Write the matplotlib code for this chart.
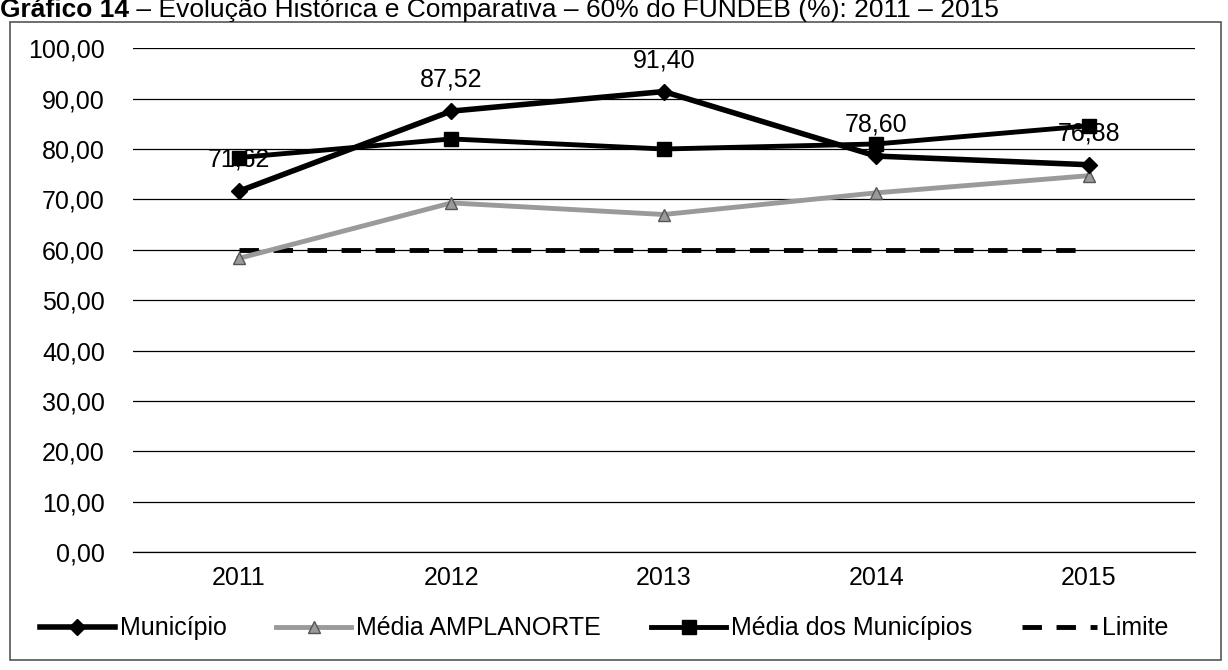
import matplotlib.pyplot as plt
from matplotlib.patches import Rectangle
from matplotlib.ticker import FuncFormatter

plt.rcParams['font.family'] = ['Liberation Sans', 'DejaVu Sans']

anos = ['2011', '2012', '2013', '2014', '2015']
municipio = [71.62, 87.52, 91.40, 78.60, 76.88]
media_amplanorte = [58.3, 69.3, 67.0, 71.3, 74.7]
media_municipios = [78.3, 82.0, 80.0, 81.0, 84.6]
limite = [60, 60, 60, 60, 60]


def virgula(v, pos=None):
    return f'{v:.2f}'.replace('.', ',')


fig = plt.figure(figsize=(12.28, 6.70), dpi=100)
ax = fig.add_axes([0.108, 0.176, 0.865, 0.752])

x = list(range(len(anos)))

ax.plot(x, municipio, color='black', lw=4, marker='D', ms=8, label='Município', zorder=5)
ax.plot(x, media_amplanorte, color='#9a9a9a', lw=3.5, marker='^', ms=9,
        mfc='#9a9a9a', mec='#555555', label='Média AMPLANORTE', zorder=3)
ax.plot(x, media_municipios, color='black', lw=3.5, marker='s', ms=10, label='Média dos Municípios', zorder=4)
ax.plot(x, limite, color='black', lw=3.5, ls=(0, (4, 3)), label='Limite', zorder=2)

# rótulos do município
for i, v in enumerate(municipio):
    ax.annotate(virgula(v), (i, v), xytext=(0, 14), textcoords='offset points',
                ha='center', va='bottom', fontsize=18, zorder=6)

ax.set_xlim(-0.5, len(anos) - 0.5)
ax.set_ylim(0, 100)
ax.set_yticks(range(0, 101, 10))
ax.yaxis.set_major_formatter(FuncFormatter(virgula))
ax.set_xticks(x)
ax.set_xticklabels(anos)
ax.tick_params(axis='both', labelsize=18, length=0, pad=10)
ax.tick_params(axis='y', pad=20)
ax.grid(axis='y', color='black', lw=0.9)
ax.set_axisbelow(True)
for s in ['top', 'right', 'left']:
    ax.spines[s].set_visible(False)
ax.spines['bottom'].set_linewidth(0.9)

fig.legend(loc='center', bbox_to_anchor=(0.492, 0.062), ncol=4, frameon=False,
           fontsize=18, handlelength=3.0, columnspacing=2.0, handletextpad=0.2)

# moldura
fig.add_artist(Rectangle((0.008, 0.015), 0.986, 0.952, transform=fig.transFigure,
                         fill=False, ec='#555555', lw=1.2))

# título (cortado no topo)
r = fig.canvas.get_renderer()
t1 = fig.text(0.0, 0.9746, 'Gráfico 14', fontsize=19, fontweight='bold', va='baseline')
bb = t1.get_window_extent(renderer=r).transformed(fig.transFigure.inverted())
fig.text(bb.x1, 0.9746, ' – Evolução Histórica e Comparativa – 60% do FUNDEB (%): 2011 – 2015',
         fontsize=19, va='baseline')

fig.savefig('out.png', dpi=100)
